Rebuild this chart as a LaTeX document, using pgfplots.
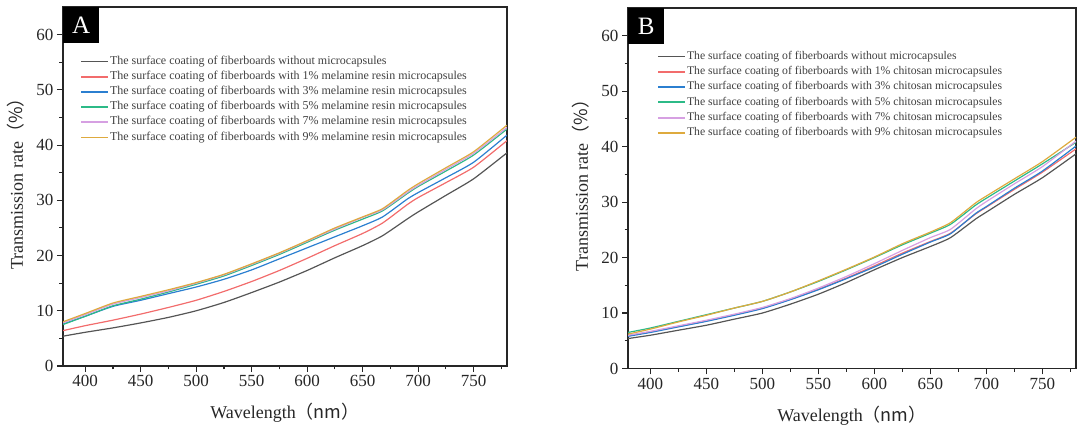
\documentclass[border=0pt]{standalone}
\usepackage{fontspec}
\setmainfont{Liberation Serif}
\newfontfamily\cjk{Noto Sans CJK SC}
\usepackage{pgfplots}
\pgfplotsset{compat=1.18}
\definecolor{cblack}{RGB}{85,85,85}
\definecolor{cred}{RGB}{242,108,108}
\definecolor{cblue}{RGB}{43,127,208}
\definecolor{cgreen}{RGB}{44,186,135}
\definecolor{cpurple}{RGB}{214,160,226}
\definecolor{corange}{RGB}{222,170,62}
\pgfplotsset{
  panel/.style={
    scale only axis, anchor=south west,
    xmin=380, xmax=780, ymin=0, ymax=65,
    xtick={400,450,...,750}, ytick={0,10,...,60},
    minor xtick={425,475,...,775}, minor ytick={5,15,...,55},
    tick align=outside, xtick pos=bottom, ytick pos=left,
    major tick length=6pt, minor tick length=3.5pt,
    axis line style={line width=1.3pt, black!85},
    every tick/.style={line width=1.1pt, black!85},
    tick label style={font=\fontsize{17}{17}\selectfont, black!85},
    /pgf/number format/assume math mode=true,
    xlabel={Wavelength\cjk{（}nm\cjk{）}},
    ylabel={Transmission rate\cjk{（}\%\cjk{）}},
    every axis x label/.style={at={(rel axis cs:0.5,0)}, yshift=-47pt, anchor=center, font=\fontsize{18}{18}\selectfont, text=black!85},
    every axis y label/.style={at={(rel axis cs:0,0.52)}, xshift=-47pt, rotate=90, anchor=center, font=\fontsize{18}{18}\selectfont, text=black!85},
    legend cell align=left,
    legend image code/.code={\draw[##1, line width=1.8pt] (0pt,0pt) -- (27pt,0pt);},
    every axis plot/.append style={line width=1.2pt, smooth, tension=0.35},
  }
}
\begin{document}
\begin{tikzpicture}
\path[use as bounding box] (0,0) rectangle (1079pt,430pt);
% ---------------- Panel A
\begin{axis}[panel, at={(63pt,64pt)}, width=444pt, height=359pt,
  legend style={at={(rel axis cs:0,1)}, anchor=north west, xshift=17pt, yshift=-48pt,
    draw=none, fill=none, font=\fontsize{12}{12}\selectfont, text=black!75, row sep=2.7pt, inner sep=0pt,
    nodes={inner sep=1pt, text height=8pt, text depth=2.5pt}}]
\addplot[cblack] coordinates {(380,5.4)(400,6.1)(425,6.9)(450,7.8)(475,8.8)(500,10.0)(525,11.5)(550,13.3)(575,15.2)(600,17.3)(625,19.6)(650,21.8)(668,23.6)(690,26.6)(700,27.9)(725,30.9)(750,33.9)(780,38.6)};
\addlegendentry{The surface coating of fiberboards without microcapsules}
\addplot[cred] coordinates {(380,6.4)(400,7.3)(425,8.3)(450,9.4)(475,10.6)(500,11.9)(525,13.5)(550,15.3)(575,17.3)(600,19.5)(625,21.8)(650,24.0)(668,25.9)(690,29.2)(700,30.5)(725,33.2)(750,36.0)(780,40.8)};
\addlegendentry{The surface coating of fiberboards with 1\% melamine resin microcapsules}
\addplot[cblue] coordinates {(380,7.6)(400,9.0)(425,10.8)(450,11.9)(475,13.1)(500,14.3)(525,15.7)(550,17.4)(575,19.4)(600,21.4)(625,23.4)(650,25.4)(668,27.0)(690,30.2)(700,31.4)(725,34.1)(750,36.9)(780,41.8)};
\addlegendentry{The surface coating of fiberboards with 3\% melamine resin microcapsules}
\addplot[cgreen] coordinates {(380,7.5)(400,9.0)(425,10.9)(450,12.1)(475,13.4)(500,14.8)(525,16.3)(550,18.2)(575,20.2)(600,22.4)(625,24.6)(650,26.6)(668,28.1)(690,31.2)(700,32.5)(725,35.3)(750,38.2)(780,42.9)};
\addlegendentry{The surface coating of fiberboards with 5\% melamine resin microcapsules}
\addplot[cpurple] coordinates {(380,7.8)(400,9.3)(425,11.2)(450,12.4)(475,13.6)(500,15.0)(525,16.5)(550,18.4)(575,20.4)(600,22.6)(625,24.8)(650,26.9)(668,28.3)(690,31.4)(700,32.7)(725,35.6)(750,38.5)(780,43.2)};
\addlegendentry{The surface coating of fiberboards with 7\% melamine resin microcapsules}
\addplot[corange] coordinates {(380,8.0)(400,9.5)(425,11.4)(450,12.6)(475,13.8)(500,15.1)(525,16.6)(550,18.5)(575,20.5)(600,22.7)(625,25.0)(650,27.0)(668,28.5)(690,31.7)(700,33.0)(725,35.9)(750,38.8)(780,43.6)};
\addlegendentry{The surface coating of fiberboards with 9\% melamine resin microcapsules}
\node[fill=black, text=white, inner sep=0pt, minimum width=36pt, minimum height=36pt, anchor=north west, font=\fontsize{25}{25}\selectfont] at (rel axis cs:0,1) {A};
\end{axis}
% ---------------- Panel B
\begin{axis}[panel, at={(628pt,61.5pt)}, width=448pt, height=360.5pt,
  legend style={at={(rel axis cs:0,1)}, anchor=north west, xshift=29pt, yshift=-42pt,
    draw=none, fill=none, font=\fontsize{11.7}{12}\selectfont, text=black!75, row sep=2.8pt, inner sep=0pt,
    nodes={inner sep=1pt, text height=8pt, text depth=2.5pt}}]
\addplot[cblack] coordinates {(380,5.4)(400,6.0)(425,6.9)(450,7.8)(475,8.9)(500,10.0)(525,11.6)(550,13.4)(575,15.5)(600,17.8)(625,20.0)(650,22.0)(668,23.6)(690,26.9)(700,28.2)(725,31.4)(750,34.4)(780,38.7)};
\addlegendentry{The surface coating of fiberboards without microcapsules}
\addplot[cred] coordinates {(380,5.9)(400,6.6)(425,7.6)(450,8.6)(475,9.7)(500,10.9)(525,12.5)(550,14.3)(575,16.3)(600,18.5)(625,20.8)(650,22.9)(668,24.4)(690,27.8)(700,29.1)(725,32.3)(750,35.4)(780,39.6)};
\addlegendentry{The surface coating of fiberboards with 1\% chitosan microcapsules}
\addplot[cblue] coordinates {(380,5.8)(400,6.5)(425,7.5)(450,8.5)(475,9.6)(500,10.8)(525,12.4)(550,14.2)(575,16.2)(600,18.3)(625,20.6)(650,22.8)(668,24.3)(690,27.9)(700,29.2)(725,32.5)(750,35.6)(780,40.1)};
\addlegendentry{The surface coating of fiberboards with 3\% chitosan microcapsules}
\addplot[cgreen] coordinates {(380,6.5)(400,7.3)(425,8.5)(450,9.7)(475,10.9)(500,12.1)(525,13.8)(550,15.7)(575,17.8)(600,20.0)(625,22.3)(650,24.4)(668,26.0)(690,29.4)(700,30.7)(725,33.8)(750,36.9)(780,40.8)};
\addlegendentry{The surface coating of fiberboards with 5\% chitosan microcapsules}
\addplot[cpurple] coordinates {(380,6.0)(400,6.7)(425,7.7)(450,8.7)(475,9.8)(500,11.0)(525,12.6)(550,14.5)(575,16.6)(600,18.9)(625,21.3)(650,23.6)(668,25.1)(690,28.7)(700,30.1)(725,33.3)(750,36.4)(780,41.0)};
\addlegendentry{The surface coating of fiberboards with 7\% chitosan microcapsules}
\addplot[corange] coordinates {(380,6.2)(400,7.1)(425,8.4)(450,9.6)(475,10.9)(500,12.1)(525,13.8)(550,15.8)(575,17.9)(600,20.1)(625,22.5)(650,24.6)(668,26.3)(690,29.8)(700,31.1)(725,34.2)(750,37.3)(780,41.7)};
\addlegendentry{The surface coating of fiberboards with 9\% chitosan microcapsules}
\node[fill=black, text=white, inner sep=0pt, minimum width=36pt, minimum height=36pt, anchor=north west, font=\fontsize{25}{25}\selectfont] at (rel axis cs:0,1) {B};
\end{axis}
\end{tikzpicture}
\end{document}
